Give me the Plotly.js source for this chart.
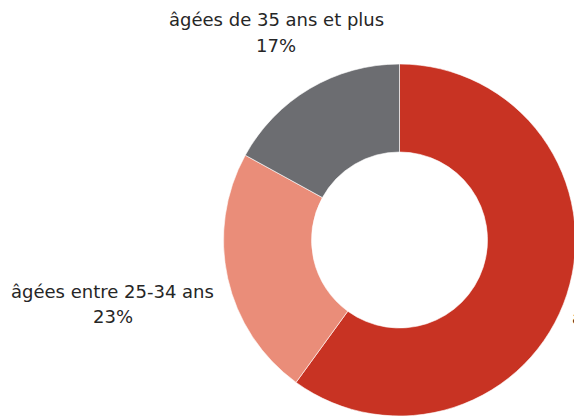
<!DOCTYPE html>
<html>
<head>
<meta charset="utf-8">
<script src="https://cdn.plot.ly/plotly-3.0.1.min.js"></script>
<style>
  html, body { margin: 0; padding: 0; overflow: hidden; background: #fff; width: 574px; height: 416px; }
  #chart { width: 800px; height: 480px; }
</style>
</head>
<body>
<div id="chart"></div>
<script>
// Data
const labels = ["âgées de 18-24 ans", "âgées entre 25-34 ans", "âgées de 35 ans et plus"];
const values = [60, 23, 17];
const colors = ["#C83323", "#EA8D79", "#6C6D71"];

const W = 800, H = 480;
const cx = 399.5, cy = 240, R = 176;

const trace = {
  type: "pie",
  labels: labels,
  values: values,
  hole: 0.5,
  sort: false,
  direction: "clockwise",
  rotation: 0,
  textinfo: "none",
  hoverinfo: "label+percent",
  marker: { colors: colors, line: { color: "#ffffff", width: 0.6 } },
  domain: {
    x: [(cx - R) / W, (cx + R) / W],
    y: [1 - (cy + R) / H, 1 - (cy - R) / H]
  },
  showlegend: false
};

const total = values.reduce((a, b) => a + b, 0);
const pct = values.map(v => Math.round(v / total * 100) + "%");

const font = { family: "DejaVu Sans, sans-serif", size: 18, color: "#262626" };
const labelPos = [
  { x: 570, y: 317, xanchor: "left" },
  { x: 113, y: 291, xanchor: "center" },
  { x: 276, y: 20, xanchor: "center" }
];
const annotations = [];
labelPos.forEach((p, i) => {
  annotations.push({
    xref: "paper", yref: "paper", x: p.x / W, y: 1 - p.y / H,
    xanchor: p.xanchor, yanchor: "middle", showarrow: false,
    text: labels[i], font: font
  });
  annotations.push({
    xref: "paper", yref: "paper", x: (p.xanchor === "left" ? p.x + 85 : p.x) / W, y: 1 - (p.y + 25) / H,
    xanchor: "center", yanchor: "middle", showarrow: false,
    text: pct[i], font: font
  });
});

const layout = {
  width: W, height: H,
  margin: { l: 0, r: 0, t: 0, b: 0 },
  paper_bgcolor: "#ffffff",
  plot_bgcolor: "#ffffff",
  annotations: annotations
};

Plotly.newPlot("chart", [trace], layout, { displayModeBar: false, staticPlot: true });
</script>
</body>
</html>
